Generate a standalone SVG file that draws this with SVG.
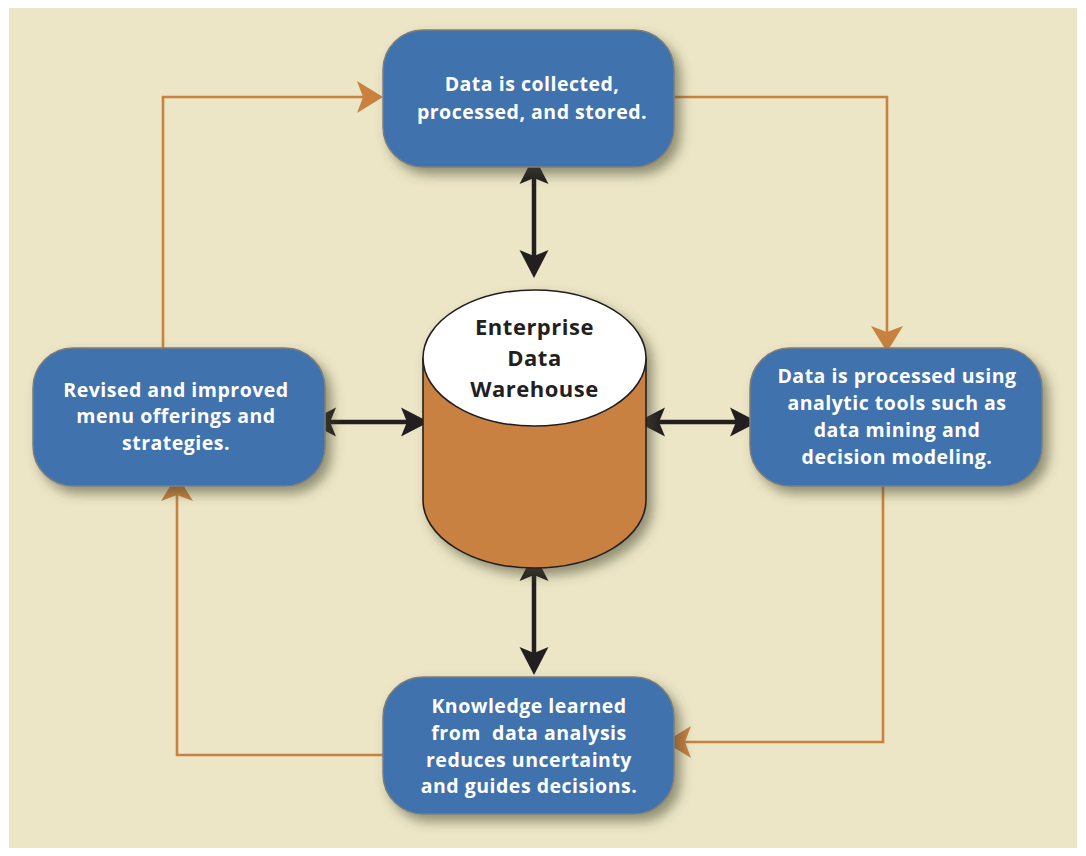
<svg xmlns="http://www.w3.org/2000/svg" width="1086" height="856" viewBox="0 0 1086 856">
  <style>
    .box { fill: #3f72ae; stroke: #7d7d7d; stroke-width: 1.5; }
    .btxt { font-family: "Open Sans", Lato, sans-serif; font-weight: 700; font-size: 19.5px; letter-spacing: 0.5px; fill: #ffffff; text-anchor: middle; white-space: pre; }
    .ctxt { font-family: "Open Sans", Lato, sans-serif; font-weight: 700; font-size: 22px; letter-spacing: 0.5px; fill: #231f20; text-anchor: middle; }
    .flow { fill: none; stroke: #c8813f; stroke-width: 2.6; }
    .dbl { fill: none; stroke: #231f20; stroke-width: 4.5; }
  </style>
  <defs>
    <filter id="shadow" x="-20%" y="-20%" width="140%" height="150%">
      <feDropShadow dx="6" dy="7" stdDeviation="6" flood-color="#4a4630" flood-opacity="0.55"/>
    </filter>
    <marker id="orangeHead" viewBox="-8 -18 30 36" markerWidth="30" markerHeight="36" refX="0" refY="0" orient="auto" markerUnits="userSpaceOnUse">
      <path d="M20,0 L-6,-16 L0,0 L-6,16 Z" fill="#c8813f"/>
    </marker>
    <marker id="blackHead" viewBox="-8 -16 32 32" markerWidth="32" markerHeight="32" refX="0" refY="0" orient="auto-start-reverse" markerUnits="userSpaceOnUse">
      <path d="M22,0 L-6,-14.5 L0,0 L-6,14.5 Z" fill="#231f20"/>
    </marker>
  </defs>

  <rect x="9" y="8" width="1068" height="840" fill="#ece6c6"/>

  <g id="connectors">
    <path class="flow" d="M163,348 V97 H363" marker-end="url(#orangeHead)"/>
    <path class="flow" d="M674,97 H887 V332" marker-end="url(#orangeHead)"/>
    <path class="flow" d="M883,486 V742 H685" marker-end="url(#orangeHead)"/>
    <path class="flow" d="M383,755 H177 V495" marker-end="url(#orangeHead)"/>
    <path class="dbl" d="M534,178 V256" marker-start="url(#blackHead)" marker-end="url(#blackHead)"/>
    <path class="dbl" d="M534,575 V653" marker-start="url(#blackHead)" marker-end="url(#blackHead)"/>
    <path class="dbl" d="M330,422 H407" marker-start="url(#blackHead)" marker-end="url(#blackHead)"/>
    <path class="dbl" d="M659,422 H736" marker-start="url(#blackHead)" marker-end="url(#blackHead)"/>
  </g>

  <g id="warehouse" filter="url(#shadow)">
    <path d="M423,358 V500 A111.5,68 0 0 0 646,500 V358 Z" fill="#c8813f" stroke="#231f20" stroke-width="1.6"/>
    <ellipse cx="534.5" cy="358" rx="111.5" ry="68" fill="#ffffff" stroke="#231f20" stroke-width="1.6"/>
  </g>
  <g id="warehouse-label">
    <text class="ctxt" x="534.5" y="335">Enterprise</text>
    <text class="ctxt" x="534.5" y="366">Data</text>
    <text class="ctxt" x="534.5" y="397">Warehouse</text>
  </g>

  <g id="collect">
    <rect class="box" x="383" y="30" width="291" height="137" rx="40" ry="40" filter="url(#shadow)"/>
    <text class="btxt" x="532" y="91">Data is collected,</text>
    <text class="btxt" x="532" y="119">processed, and stored.</text>
  </g>

  <g id="analyze">
    <rect class="box" x="750" y="348" width="292" height="138" rx="40" ry="40" filter="url(#shadow)"/>
    <text class="btxt" x="897" y="383">Data is processed using</text>
    <text class="btxt" x="897" y="410">analytic tools such as</text>
    <text class="btxt" x="897" y="437">data mining and</text>
    <text class="btxt" x="897" y="464">decision modeling.</text>
  </g>

  <g id="knowledge">
    <rect class="box" x="383" y="677" width="291" height="137" rx="40" ry="40" filter="url(#shadow)"/>
    <text class="btxt" x="529" y="713">Knowledge learned</text>
    <text class="btxt" x="529" y="740">from  data analysis</text>
    <text class="btxt" x="529" y="767">reduces uncertainty</text>
    <text class="btxt" x="529" y="793">and guides decisions.</text>
  </g>

  <g id="revise">
    <rect class="box" x="33" y="348" width="292" height="138" rx="40" ry="40" filter="url(#shadow)"/>
    <text class="btxt" x="176" y="397">Revised and improved</text>
    <text class="btxt" x="176" y="423">menu offerings and</text>
    <text class="btxt" x="176" y="450">strategies.</text>
  </g>
</svg>
